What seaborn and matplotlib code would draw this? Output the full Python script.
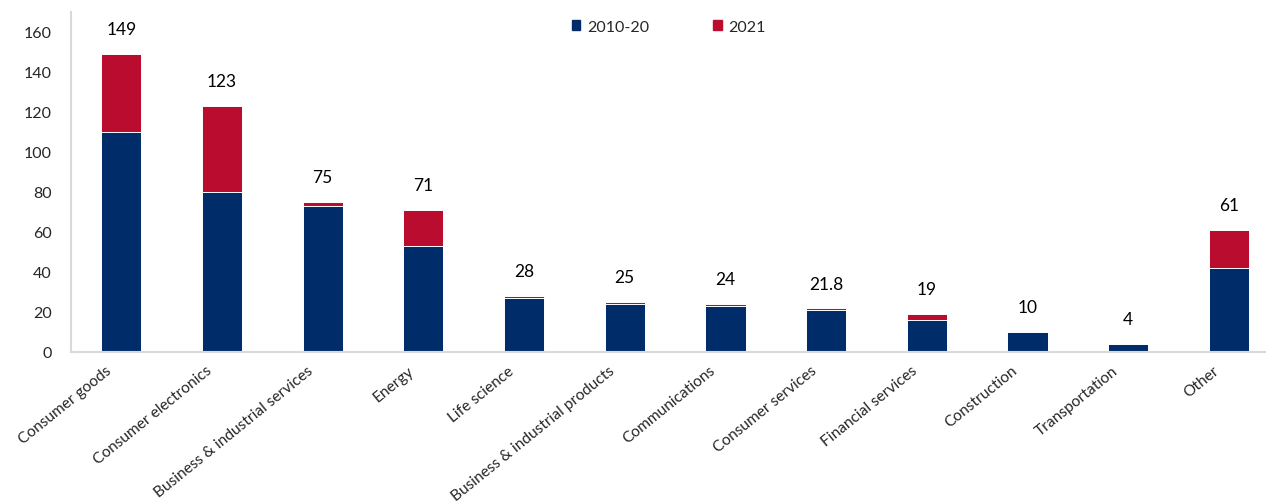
import matplotlib
matplotlib.use("Agg")
import matplotlib.pyplot as plt
import matplotlib.transforms as mtransforms
import seaborn as sns
import pandas as pd
from matplotlib.patches import Patch

categories = [
    "Consumer goods", "Consumer electronics", "Business & industrial services",
    "Energy", "Life science", "Business & industrial products", "Communications",
    "Consumer services", "Financial services", "Construction", "Transportation", "Other",
]
period_2010_20 = [110, 80, 73, 53, 27, 24, 23, 21, 16, 10, 4, 42]
year_2021 = [39, 43, 2, 18, 1, 1, 1, 0.8, 3, 0, 0, 19]
total_labels = ["149", "123", "75", "71", "28", "25", "24", "21.8", "19", "10", "4", "61"]

NAVY = "#002D6A"
RED = "#BA0C2F"

sns.set_theme(style="white")
plt.rcParams["font.family"] = ["Lato", "DejaVu Sans"]

df = pd.DataFrame({
    "category": categories,
    "base": period_2010_20,
    "recent": year_2021,
})
df["total"] = df["base"] + df["recent"]

fig = plt.figure(figsize=(12.66, 5.02), dpi=100)
ax = fig.add_axes([71 / 1266, 149 / 502, 1 - 71 / 1266, (353 - 13) / 502])

# Stack: full-height bar in red, then the 2010-20 part drawn over it in navy
sns.barplot(data=df, x="category", y="total", color=RED, saturation=1,
            width=0.4, edgecolor="white", linewidth=0.7, ax=ax)
sns.barplot(data=df, x="category", y="base", color=NAVY, saturation=1,
            width=0.4, edgecolor="white", linewidth=0.7, ax=ax)

for i, (tot, lab) in enumerate(zip(df["total"], total_labels)):
    ax.annotate(lab, (i, tot), xytext=(0, 12), textcoords="offset points",
                ha="center", va="bottom", fontsize=12.5, color="black")

ax.set_ylim(0, 170)
ax.set_xlim(-0.5, 11.37)
ax.set_yticks(range(0, 161, 20))
ax.tick_params(axis="y", labelsize=11.5, length=0, pad=14)
ax.tick_params(axis="x", labelsize=11.2, length=0, pad=8)
ax.set_xticks(range(len(categories)))
ax.set_xticklabels(categories, rotation=39, ha="right", rotation_mode="anchor")
shift = mtransforms.ScaledTranslation(-16 / 100, 0, fig.dpi_scale_trans)
for lbl in ax.get_xticklabels():
    lbl.set_transform(lbl.get_transform() + shift)
ax.set_xlabel("")
ax.set_ylabel("")

for side in ("top", "right"):
    ax.spines[side].set_visible(False)
for side in ("left", "bottom"):
    ax.spines[side].set_color("#D9D9D9")
    ax.spines[side].set_linewidth(1.5)

handles = [Patch(color=NAVY, label="2010-20"), Patch(color=RED, label="2021")]
ax.legend(handles=handles, loc="upper center", bbox_to_anchor=(0.5, 1.02),
          ncol=2, frameon=False, fontsize=11.5, handlelength=0.55, handleheight=0.55,
          columnspacing=4, handletextpad=0.4)

fig.savefig("out.png", dpi=100)
